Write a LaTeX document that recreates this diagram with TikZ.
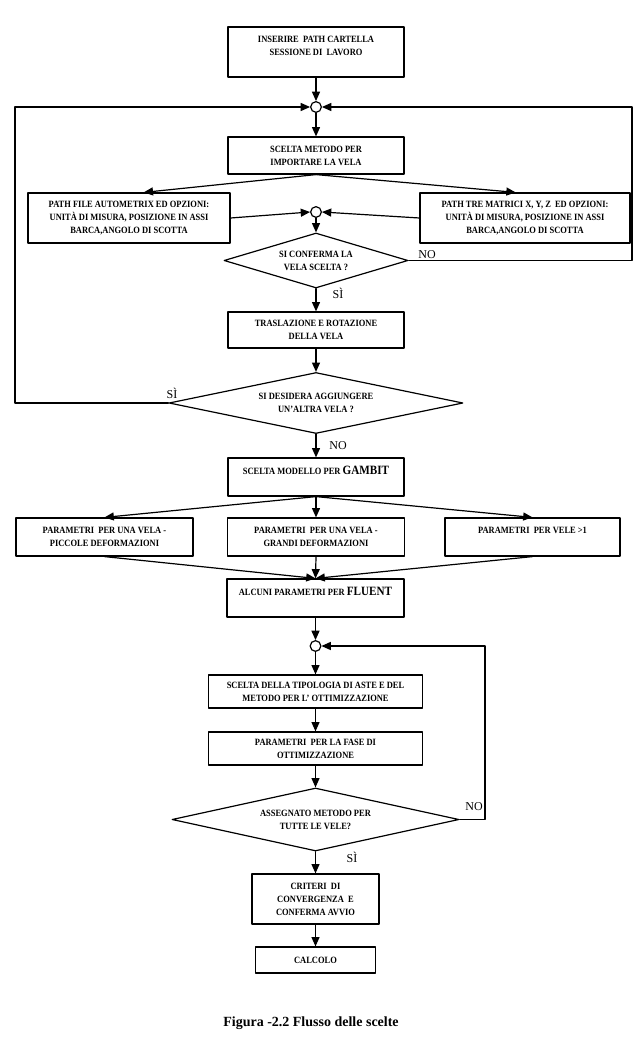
\documentclass[tikz,border=0pt]{standalone}
\usepackage{fontspec}
\setmainfont{Liberation Serif}
\newfontfamily\blkfamily{Liberation Serif}[FakeStretch=0.88]
\newcommand\blkfont{\blkfamily\bfseries\fontsize{7.2}{9.75}\selectfont}
\newcommand\labfont{\fontsize{9}{10}\selectfont}
\usetikzlibrary{shapes.geometric,arrows.meta}
\begin{document}
\begin{tikzpicture}[x=0.75pt,y=-0.75pt,line join=round,line cap=round,>={Triangle[length=7pt,width=6pt]},
blk/.style={draw,line width=0.9pt,align=center,font=\blkfont,inner sep=2pt},
dec/.style={draw,diamond,line width=0.9pt,align=center,font=\blkfont,inner sep=0pt,aspect=3.4},
nodo/.style={draw,circle,line width=0.9pt,minimum size=8pt,inner sep=0pt},
lab/.style={font=\labfont,inner sep=0pt}]
\useasboundingbox (0,0) rectangle (634,1037);
\node[blk,minimum width=132pt,minimum height=37.5pt] (inser) at (316,52) {INSERIRE\ \ PATH CARTELLA\\SESSIONE DI\ \ LAVORO\\ ~};
\node[nodo] (c1) at (316,107) {};
\node[blk,minimum width=132pt,minimum height=27.75pt] (metodo) at (316,155.5) {SCELTA METODO PER\\IMPORTARE LA VELA};
\node[blk,minimum width=151.5pt,minimum height=37.5pt] (autom) at (129,218) {PATH FILE AUTOMETRIX ED OPZIONI:\\UNITÀ DI MISURA, POSIZIONE IN ASSI\\BARCA,ANGOLO DI SCOTTA};
\node[blk,minimum width=157.5pt,minimum height=37.5pt] (matr) at (525,218) {PATH TRE MATRICI X, Y, Z\ \ ED OPZIONI:\\UNITÀ DI MISURA, POSIZIONE IN ASSI\\BARCA,ANGOLO DI SCOTTA};
\node[nodo] (c2) at (316,212) {};
\node[dec,minimum width=138pt,minimum height=41.25pt] (conf) at (316,260.5) {SI CONFERMA LA\\VELA SCELTA ?};
\node[blk,minimum width=132pt,minimum height=27pt] (trasl) at (316,330) {TRASLAZIONE E ROTAZIONE\\DELLA VELA};
\node[dec,minimum width=220.5pt,minimum height=45.75pt] (aggiu) at (316,403) {SI DESIDERA AGGIUNGERE\\UN’ALTRA VELA ?};
\node[blk,minimum width=132pt,minimum height=28.5pt] (gambit) at (316,477) {SCELTA MODELLO PER {\fontsize{9.5}{9.75}\selectfont GAMBIT}\\ ~};
\node[blk,minimum width=132.75pt,minimum height=28.5pt] (piccole) at (104.5,537) {PARAMETRI\ \ PER UNA VELA -\\PICCOLE DEFORMAZIONI};
\node[blk,minimum width=132.75pt,minimum height=28.5pt] (grandi) at (316,537) {PARAMETRI\ \ PER UNA VELA -\\GRANDI DEFORMAZIONI};
\node[blk,minimum width=131.25pt,minimum height=28.5pt] (vele) at (532.5,537) {PARAMETRI\ \ PER VELE >1\\ ~};
\node[blk,minimum width=132.75pt,minimum height=28.5pt] (fluent) at (315.5,598) {ALCUNI PARAMETRI PER {\fontsize{9.5}{9.75}\selectfont FLUENT}\\ ~};
\node[nodo] (c3) at (315.5,646) {};
\node[blk,minimum width=160.5pt,minimum height=24.75pt] (tipol) at (315.5,691.5) {SCELTA DELLA TIPOLOGIA DI ASTE E DEL\\METODO PER L’ OTTIMIZZAZIONE};
\node[blk,minimum width=160.5pt,minimum height=24.75pt] (fase) at (315.5,748.5) {PARAMETRI\ \ PER LA FASE DI\\OTTIMIZZAZIONE};
\node[dec,minimum width=215.25pt,minimum height=47.25pt] (asse) at (315.5,819.5) {ASSEGNATO METODO PER\\TUTTE LE VELE?};
\node[blk,minimum width=95.25pt,minimum height=37.5pt] (crit) at (315.5,899) {CRITERI\ \ DI\\CONVERGENZA\ \ E\\CONFERMA AVVIO};
\node[blk,minimum width=90pt,minimum height=19.5pt] (calc) at (315.5,960) {CALCOLO};
\node[font=\bfseries\fontsize{10.5}{12}\selectfont] (cap) at (311,1023) {Figura -2.2 Flusso delle scelte};
\node[lab] (si1) at (172,393) {SÌ};
\node[lab] (no1) at (427,255) {NO};
\node[lab] (si2) at (338,293) {SÌ};
\node[lab] (no2) at (338,446) {NO};
\node[lab] (no3) at (474,807) {NO};
\node[lab] (si3) at (352,857) {SÌ};
\coordinate (lc) at (15,107);
\coordinate (rc) at (632,107);
\coordinate (fc) at (485,646);
\begin{scope}[->,line width=0.9pt]
\draw(inser)--(c1);
\draw(c1)--(metodo);
\draw(metodo.south)--([xshift=11pt]autom.north);
\draw(metodo.south)--([xshift=-7pt]matr.north);
\draw(autom.east)--(c2.west);
\draw(matr.west)--(c2.east);
\draw(c2)--(conf);
\draw(conf.east)-|(rc)--(c1.east);
\draw(conf)--(trasl);
\draw(trasl)--(aggiu);
\draw(aggiu.west)-|(lc)--(c1.west);
\draw(aggiu)--(gambit);
\draw(gambit.south)--(piccole.north);
\draw(gambit.south)--(grandi.north);
\draw(gambit.south)--(vele.north);
\draw(piccole.south)--(fluent.north);
\draw(grandi.south)--(fluent.north);
\draw(vele.south)--(fluent.north);
\draw(fluent)--(c3);
\draw(c3)--(tipol);
\draw(tipol)--(fase);
\draw(fase)--(asse);
\draw(asse.east)-|(fc)--(c3.east);
\draw(asse)--(crit);
\draw(crit)--(calc);
\end{scope}
\end{tikzpicture}
\end{document}
